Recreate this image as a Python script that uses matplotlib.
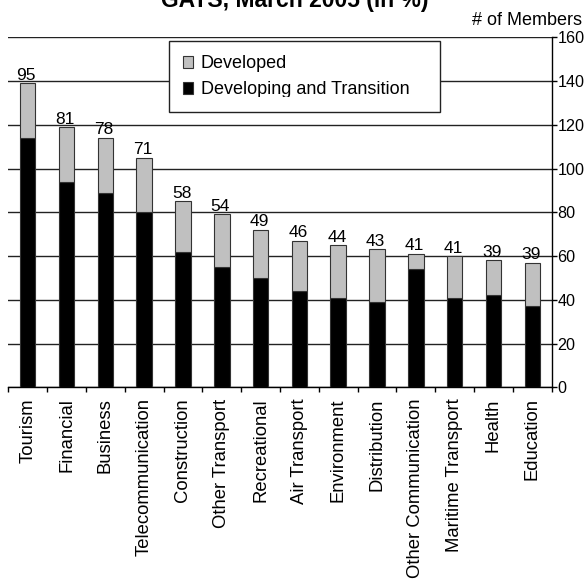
import matplotlib
matplotlib.use("Agg")
import matplotlib.pyplot as plt
from matplotlib.patches import Patch, Rectangle
import numpy as np

plt.rcParams['font.family'] = ['Liberation Sans', 'DejaVu Sans']

sectors = ["Tourism", "Financial", "Business", "Telecommunication", "Construction",
           "Other Transport", "Recreational", "Air Transport", "Environment",
           "Distribution", "Other Communication", "Maritime Transport", "Health",
           "Education"]
# number of members with commitments
total_members = [139, 119, 114, 105, 85, 79, 72, 67, 65, 63, 61, 60, 58, 57]
developing = [114, 94, 89, 80, 62, 55, 50, 44, 41, 39, 54, 41, 42, 37]
pct_labels = [95, 81, 78, 71, 58, 54, 49, 46, 44, 43, 41, 41, 39, 39]
yticks = [0, 20, 40, 60, 80, 100, 120, 140, 160]

developed = [t - d for t, d in zip(total_members, developing)]
x = np.arange(len(sectors))

fig = plt.figure(figsize=(5.84, 5.79), dpi=100)
ax = fig.add_axes([0.0142, 0.3311, 0.9305, 0.6045])

ax.bar(x, developing, width=0.40, color="black", edgecolor="#333333", linewidth=0.8, zorder=3)
ax.bar(x, developed, width=0.40, bottom=developing, color="#c0c0c0",
       edgecolor="#333333", linewidth=0.8, zorder=3)

for xi, top, lab in zip(x, total_members, pct_labels):
    ax.annotate(str(lab), (xi, top), xytext=(-1, 2.5), textcoords="offset points",
                ha="center", va="baseline", fontsize=12.5)

ax.set_xlim(-0.5, len(sectors) - 0.5)
ax.set_ylim(0, 160)

ax.yaxis.tick_right()
ax.set_yticks(yticks)
ax.set_yticklabels([str(v) for v in yticks], fontsize=11.6)
ax.tick_params(axis="y", direction="out", length=3.5, width=1, pad=0.5, colors="black")
ax.grid(axis="y", color="#222222", linewidth=1, zorder=0)

ax.set_xticks(x)
ax.set_xticklabels(sectors, rotation=90, fontsize=13.3, va="top")
ax.set_xticks(np.arange(-0.5, len(sectors)), minor=True)
ax.tick_params(axis="x", which="major", length=0, pad=8)
ax.tick_params(axis="x", which="minor", length=3.5, width=1, direction="out")

for s in ["left", "top"]:
    ax.spines[s].set_visible(False)
ax.spines["right"].set_linewidth(1)
ax.spines["bottom"].set_linewidth(1)

handles = [Patch(facecolor="#c0c0c0", edgecolor="#333333", linewidth=0.8),
           Patch(facecolor="black", edgecolor="#333333", linewidth=0.8)]
leg = ax.legend(handles, ["Developed", "Developing and Transition"],
                loc="upper left", bbox_to_anchor=(169 / 584, 1 - 41 / 579, 271 / 584, 0),
                bbox_transform=fig.transFigure, mode="expand", borderaxespad=0,
                fontsize=13, handlelength=0.55, handleheight=0.65, handletextpad=0.45,
                borderpad=0.77, labelspacing=0.5, fancybox=False, framealpha=1)
leg.get_frame().set_edgecolor("#222222")
leg.get_frame().set_linewidth(1)
leg.set_zorder(5)

# the source image clips the lower edge of the last legend row
fig.add_artist(Rectangle((185 / 584, 1 - 105.5 / 579), 245 / 584, 9 / 579,
                         transform=fig.transFigure, facecolor="white",
                         edgecolor="none", zorder=10))

fig.text(0.504, 1 - 6.5 / 579, "GATS, March 2005 (in %)", ha="center", va="baseline",
         fontsize=16.5, fontweight="bold")
fig.text(582 / 584, 1 - 25 / 579, "# of Members", ha="right", va="baseline", fontsize=13)

fig.savefig("out.png", dpi=100)
